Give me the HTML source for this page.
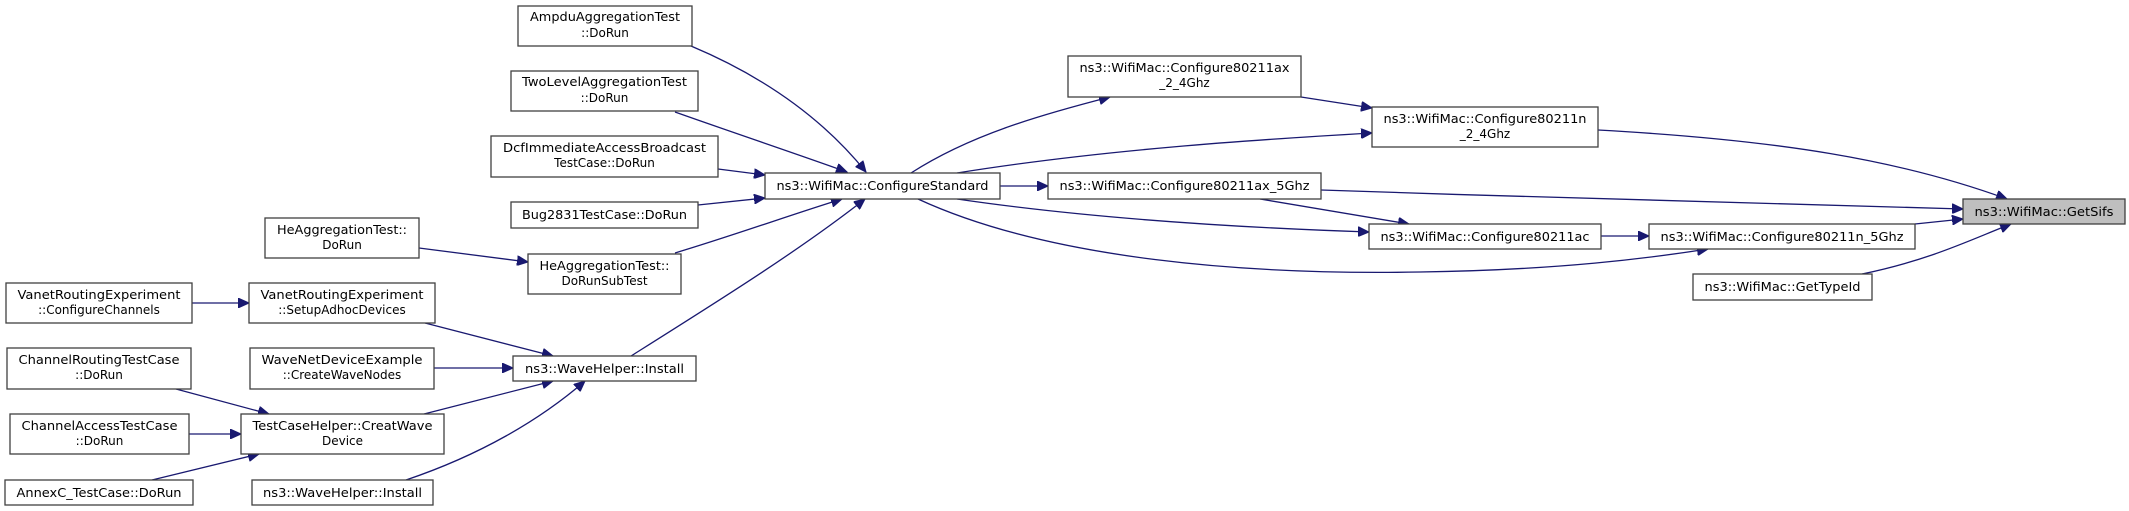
<!DOCTYPE html>
<html><head><meta charset="utf-8"><style>
html,body{margin:0;padding:0;background:#fff;}
svg{display:block;}
text{font-family:"DejaVu Sans","Liberation Sans",sans-serif;font-size:12px;fill:#000;}
.n{fill:#fff;stroke:#404040;stroke-width:1.3;}
.e{fill:none;stroke:#191970;stroke-width:1.3;}
</style></head><body>
<svg width="2129" height="511" viewBox="0 0 2129 511" xmlns="http://www.w3.org/2000/svg">
<defs><marker id="a" markerUnits="userSpaceOnUse" markerWidth="12" markerHeight="10" refX="11" refY="5" orient="auto"><path d="M0,0 L11,5 L0,10 Z" fill="#191970" stroke="#191970"/></marker></defs>

<!-- edges -->
<g class="e" marker-end="url(#a)">
<path d="M691,46 C760,75 820,115 866,172"/>
<path d="M675,112 C740,135 800,155 847,172"/>
<path d="M718,169 L765,175"/>
<path d="M698,205 L765,198"/>
<path d="M675,253 C735,235 790,215 842,199"/>
<path d="M631,356 C720,300 800,250 865,199"/>
<path d="M419,248 L528,262"/>
<path d="M192,303 L249,303"/>
<path d="M425,323 L553,356"/>
<path d="M434,368 L513,368"/>
<path d="M424,414 L553,381"/>
<path d="M406,480 C480,455 540,420 585,381"/>
<path d="M176,389 L269,414"/>
<path d="M189,434 L241,434"/>
<path d="M152,480 L259,454"/>
<path d="M911,173 C970,135 1040,115 1110,97"/>
<path d="M957,173 C1100,150 1250,140 1372,133"/>
<path d="M1000,186 L1048,186"/>
<path d="M957,199 C1100,220 1250,228 1369,232"/>
<path d="M918,199 C1050,260 1250,275 1420,272 C1560,270 1650,258 1708,249"/>
<path d="M1301,97 L1372,108"/>
<path d="M1321,190 C1550,198 1800,204 1963,209"/>
<path d="M1260,199 L1409,224"/>
<path d="M1598,130 C1780,140 1900,160 2007,199"/>
<path d="M1601,236 L1649,236"/>
<path d="M1915,224 L1963,219"/>
<path d="M1862,274 C1930,260 1970,240 2011,224"/>
</g>

<!-- nodes -->
<g>
<rect class="n" x="518" y="6" width="174" height="40"/>
<text x="605" y="21" text-anchor="middle" textLength="150" lengthAdjust="spacingAndGlyphs">AmpduAggregationTest</text>
<text x="605" y="37" text-anchor="middle">::DoRun</text>

<rect class="n" x="511" y="71" width="187" height="40"/>
<text x="604.5" y="86" text-anchor="middle" textLength="165" lengthAdjust="spacingAndGlyphs">TwoLevelAggregationTest</text>
<text x="604.5" y="102" text-anchor="middle">::DoRun</text>

<rect class="n" x="491" y="136" width="227" height="41"/>
<text x="604.5" y="152" text-anchor="middle" textLength="203" lengthAdjust="spacingAndGlyphs">DcfImmediateAccessBroadcast</text>
<text x="604.5" y="167" text-anchor="middle">TestCase::DoRun</text>

<rect class="n" x="511" y="202" width="187" height="26"/>
<text x="604.5" y="219" text-anchor="middle" textLength="165" lengthAdjust="spacingAndGlyphs">Bug2831TestCase::DoRun</text>

<rect class="n" x="265" y="218" width="154" height="40"/>
<text x="342" y="234" text-anchor="middle" textLength="130" lengthAdjust="spacingAndGlyphs">HeAggregationTest::</text>
<text x="342" y="249" text-anchor="middle">DoRun</text>

<rect class="n" x="528" y="254" width="153" height="40"/>
<text x="604.5" y="270" text-anchor="middle" textLength="130" lengthAdjust="spacingAndGlyphs">HeAggregationTest::</text>
<text x="604.5" y="285" text-anchor="middle">DoRunSubTest</text>

<rect class="n" x="6" y="283" width="186" height="40"/>
<text x="99" y="299" text-anchor="middle" textLength="163" lengthAdjust="spacingAndGlyphs">VanetRoutingExperiment</text>
<text x="99" y="314" text-anchor="middle">::ConfigureChannels</text>

<rect class="n" x="249" y="283" width="186" height="40"/>
<text x="342" y="299" text-anchor="middle" textLength="163" lengthAdjust="spacingAndGlyphs">VanetRoutingExperiment</text>
<text x="342" y="314" text-anchor="middle">::SetupAdhocDevices</text>

<rect class="n" x="7" y="348" width="184" height="41"/>
<text x="99" y="364" text-anchor="middle" textLength="161" lengthAdjust="spacingAndGlyphs">ChannelRoutingTestCase</text>
<text x="99" y="379" text-anchor="middle">::DoRun</text>

<rect class="n" x="250" y="348" width="184" height="41"/>
<text x="342" y="364" text-anchor="middle" textLength="161" lengthAdjust="spacingAndGlyphs">WaveNetDeviceExample</text>
<text x="342" y="379" text-anchor="middle">::CreateWaveNodes</text>

<rect class="n" x="513" y="356" width="183" height="25"/>
<text x="604.5" y="373" text-anchor="middle" textLength="159" lengthAdjust="spacingAndGlyphs">ns3::WaveHelper::Install</text>

<rect class="n" x="10" y="414" width="179" height="40"/>
<text x="99.5" y="430" text-anchor="middle" textLength="156" lengthAdjust="spacingAndGlyphs">ChannelAccessTestCase</text>
<text x="99.5" y="445" text-anchor="middle">::DoRun</text>

<rect class="n" x="241" y="414" width="203" height="40"/>
<text x="342.5" y="430" text-anchor="middle" textLength="180" lengthAdjust="spacingAndGlyphs">TestCaseHelper::CreatWave</text>
<text x="342.5" y="445" text-anchor="middle">Device</text>

<rect class="n" x="5" y="480" width="188" height="25"/>
<text x="99" y="497" text-anchor="middle" textLength="165" lengthAdjust="spacingAndGlyphs">AnnexC_TestCase::DoRun</text>

<rect class="n" x="252" y="480" width="181" height="25"/>
<text x="342.5" y="497" text-anchor="middle" textLength="159" lengthAdjust="spacingAndGlyphs">ns3::WaveHelper::Install</text>

<rect class="n" x="765" y="173" width="235" height="26"/>
<text x="882.5" y="190" text-anchor="middle" textLength="212" lengthAdjust="spacingAndGlyphs">ns3::WifiMac::ConfigureStandard</text>

<rect class="n" x="1068" y="56" width="233" height="41"/>
<text x="1184.5" y="72" text-anchor="middle" textLength="210" lengthAdjust="spacingAndGlyphs">ns3::WifiMac::Configure80211ax</text>
<text x="1184.5" y="87" text-anchor="middle">_2_4Ghz</text>

<rect class="n" x="1048" y="173" width="273" height="26"/>
<text x="1184.5" y="190" text-anchor="middle" textLength="250" lengthAdjust="spacingAndGlyphs">ns3::WifiMac::Configure80211ax_5Ghz</text>

<rect class="n" x="1372" y="107" width="226" height="40"/>
<text x="1485" y="123" text-anchor="middle" textLength="203" lengthAdjust="spacingAndGlyphs">ns3::WifiMac::Configure80211n</text>
<text x="1485" y="138" text-anchor="middle">_2_4Ghz</text>

<rect class="n" x="1369" y="224" width="232" height="25"/>
<text x="1485" y="241" text-anchor="middle" textLength="209" lengthAdjust="spacingAndGlyphs">ns3::WifiMac::Configure80211ac</text>

<rect class="n" x="1649" y="224" width="266" height="25"/>
<text x="1782" y="241" text-anchor="middle" textLength="243" lengthAdjust="spacingAndGlyphs">ns3::WifiMac::Configure80211n_5Ghz</text>

<rect class="n" x="1693" y="274" width="179" height="26"/>
<text x="1782.5" y="291" text-anchor="middle" textLength="156" lengthAdjust="spacingAndGlyphs">ns3::WifiMac::GetTypeId</text>

<rect class="n" x="1963" y="199" width="162" height="25" style="fill:#bfbfbf"/>
<text x="2044" y="216" text-anchor="middle" textLength="139" lengthAdjust="spacingAndGlyphs">ns3::WifiMac::GetSifs</text>
</g>
</svg>
</body></html>
